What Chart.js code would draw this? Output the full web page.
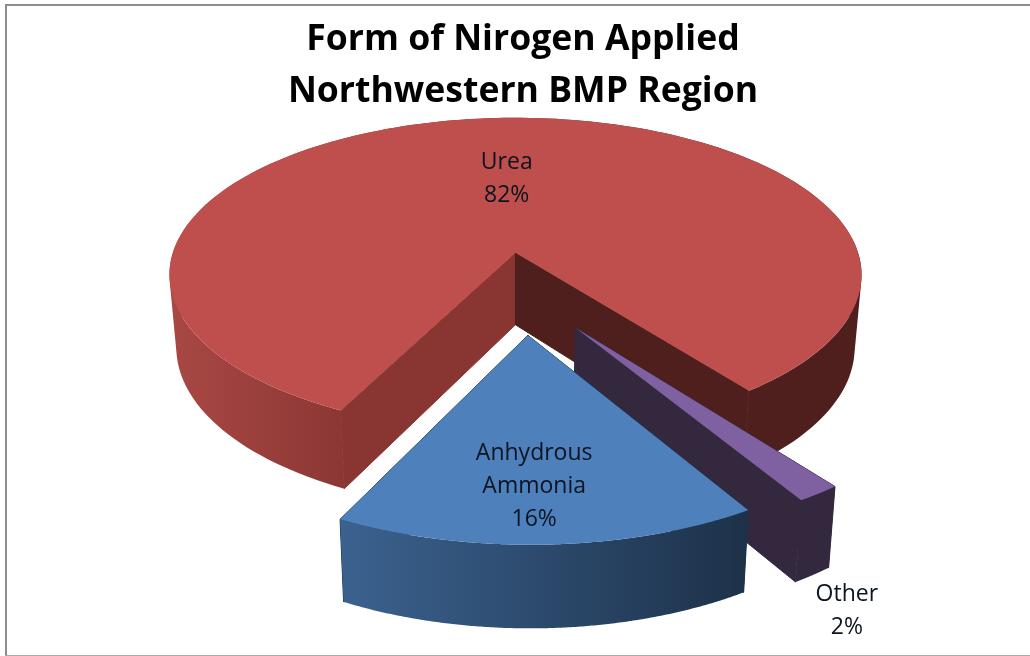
<!DOCTYPE html>
<html>
<head>
<meta charset="utf-8">
<script src="https://cdn.jsdelivr.net/npm/chart.js@4/dist/chart.umd.js"></script>
<style>
  html, body { margin: 0; background: #fff; overflow: hidden; }
  #frame { position: absolute; left: 5px; top: 4px; width: 1023px; height: 649px;
           border: 2px solid #8e8e8e; border-bottom: 1px solid #aaa; border-right-width: 2px; }
  #pie { position: absolute; left: 0; top: 0; }
</style>
</head>
<body>
<div id="frame"></div>
<canvas id="pie" width="1030" height="656"></canvas>
<script>
const titleLines = ['Form of Nirogen Applied', 'Northwestern BMP Region'];
// draw order is back to front: urea, then other, then anhydrous on top
const categories = [['Urea'], ['Other'], ['Anhydrous', 'Ammonia']];
const shares = [82.3, 1.7, 16];
const topColors = ['#BE4F4C', '#7F60A0', '#4E80BC'];
const wallStops = [
    [[0, '#A94845'], [0.25, '#8C3734'], [0.35, '#8A3533'], [0.78, '#4E1F1D'], [1, '#4E1F1D']],
    [[0, '#34283F'], [1, '#34283F']],
    [[0, '#3B628F'], [1, '#1D3149']]
];
const cutColors = [['#893532', '#4E1F1D'], ['#34283F', '#34283F'], ['#1D3149', '#1D3149']];
// where each label sits, from the tip of its slice, in pie radii
const labelSpots = [[-0.027, -0.515], [0.565, 1.30], [0.011, 0.755]];

// tilt of the pie, everything in units of the radius Chart.js worked out
const view = {sx: 2.25, sy: 1.0475, shear: 0.009, persp: 0.145, nudge: 0.005,
              depth: 0.466, taper: 0.98, growth: 0.04, vanish: -0.044};

function project(arc, p, q) {
    const R = arc.outerRadius;
    const W = 1 - view.persp * q;
    return {
        x: arc.x + R * (view.nudge + (view.sx * p + view.shear * q) / W),
        y: arc.y + R * view.sy * q / W
    };
}

function drop(arc, pt) {
    const R = arc.outerRadius;
    const vx = arc.x + R * view.vanish;
    return {
        x: vx + view.taper * (pt.x - vx),
        y: pt.y + R * view.depth + view.growth * (pt.y - arc.y)
    };
}

function tracePoly(ctx, pts) {
    pts.forEach((pt, i) => i ? ctx.lineTo(pt.x, pt.y) : ctx.moveTo(pt.x, pt.y));
    ctx.closePath();
}

function fillPoly(ctx, pts, fill) {
    ctx.beginPath();
    tracePoly(ctx, pts);
    ctx.fillStyle = fill;
    ctx.fill();
}

function fillCut(ctx, pts, fill) {
    // stroked as well so no pale hairline shows where it meets the wall
    fillPoly(ctx, pts, fill);
    ctx.strokeStyle = fill;
    ctx.lineWidth = 1;
    ctx.stroke();
}

function signedArea(pts) {
    return pts.reduce((sum, pt, i) => {
        const next = pts[(i + 1) % pts.length];
        return sum + pt.x * next.y - next.x * pt.y;
    }, 0);
}

const tiltedPie = {
    id: 'tiltedPie',
    beforeDatasetsDraw(chart) {
        const ctx = chart.ctx;
        const arcs = chart.getDatasetMeta(0).data;
        arcs.forEach((arc, i) => {
            const mid = (arc.startAngle + arc.endAngle) / 2;
            const e = arc.options.offset / arc.outerRadius;
            const tipP = e * Math.cos(mid);
            const tipQ = e * Math.sin(mid);
            const tip = project(arc, tipP, tipQ);
            const rim = [];
            const steps = 180;
            for (let s = 0; s <= steps; s++) {
                const a = arc.startAngle + (arc.endAngle - arc.startAngle) * s / steps;
                rim.push(project(arc, tipP + Math.cos(a), tipQ + Math.sin(a)));
            }
            const low = rim.map(pt => drop(arc, pt));
            const xs = rim.map(pt => pt.x);
            const wall = ctx.createLinearGradient(Math.min(...xs), 0, Math.max(...xs), 0);
            wallStops[i].forEach(([at, c]) => wall.addColorStop(at, c));

            fillCut(ctx, [tip, rim[0], low[0], drop(arc, tip)], cutColors[i][0]);
            fillCut(ctx, [tip, rim[steps], low[steps], drop(arc, tip)], cutColors[i][1]);
            // all wall strips go in one path wound the same way, so the sides don't cancel out
            ctx.beginPath();
            for (let s = 0; s < steps; s++) {
                const strip = [rim[s], rim[s + 1], low[s + 1], low[s]];
                tracePoly(ctx, signedArea(strip) > 0 ? strip : strip.reverse());
            }
            ctx.fillStyle = wall;
            ctx.fill();
            fillPoly(ctx, [tip, ...rim], topColors[i]);
        });

        ctx.save();
        ctx.font = '23px "Open Sans"';
        ctx.fillStyle = '#0b1420';
        ctx.textAlign = 'center';
        ctx.textBaseline = 'middle';
        arcs.forEach((arc, i) => {
            const mid = (arc.startAngle + arc.endAngle) / 2;
            const e = arc.options.offset / arc.outerRadius;
            const spot = project(arc, e * Math.cos(mid) + labelSpots[i][0], e * Math.sin(mid) + labelSpots[i][1]);
            const lines = [...categories[i], Math.round(shares[i]) + '%'];
            lines.forEach((line, n) => {
                ctx.fillText(line, spot.x, spot.y + (n - (lines.length - 1) / 2) * 33);
            });
        });
        ctx.restore();
        return false;
    }
};

new Chart(document.getElementById('pie'), {
    type: 'pie',
    data: {
        labels: categories.map(c => c.join(' ')),
        datasets: [{
            data: shares,
            backgroundColor: topColors,
            borderWidth: 0,
            offset: 39.4
        }]
    },
    options: {
        responsive: false,
        animation: false,
        rotation: 206.5,
        layout: {padding: {left: 21, right: 5, top: 0, bottom: 186}},
        plugins: {
            legend: {display: false},
            tooltip: {enabled: false},
            title: {
                display: true,
                text: titleLines,
                color: '#000',
                font: {family: 'Open Sans', size: 35.6, weight: 'bold', lineHeight: 1.461},
                padding: {top: 14, bottom: -3}
            }
        }
    },
    plugins: [tiltedPie]
});
</script>
</body>
</html>
